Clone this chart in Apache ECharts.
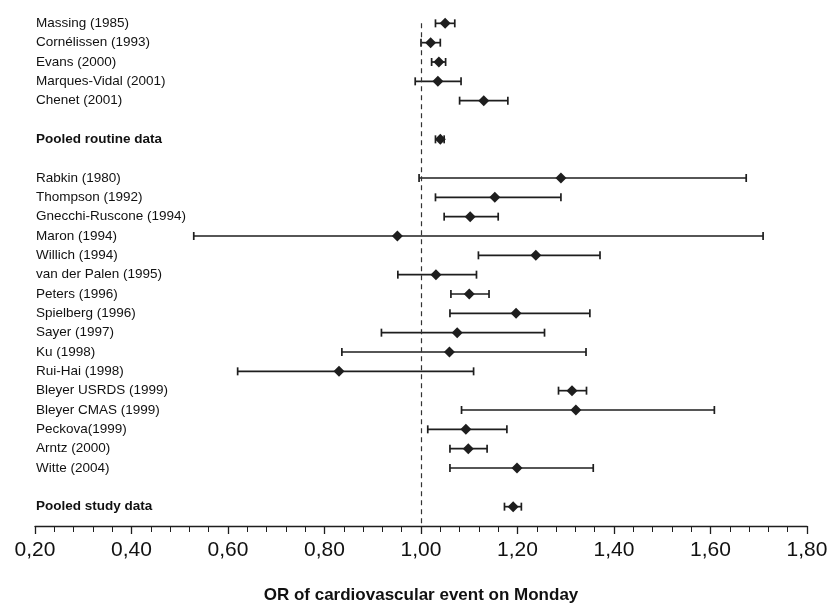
<!DOCTYPE html>
<html>
<head>
<meta charset="utf-8">
<script src="https://cdn.jsdelivr.net/npm/echarts@6/dist/echarts.min.js"></script>
<style>
  html, body { margin: 0; padding: 0; background: #fff; }
  #main { width: 833px; height: 610px; }
</style>
</head>
<body>
<div id="main"></div>
<script>
// routine data
var routineNames = ['Massing (1985)', 'Cornélissen (1993)', 'Evans (2000)', 'Marques-Vidal (2001)', 'Chenet (2001)'];
var routineOR = [1.05, 1.02, 1.037, 1.035, 1.13];
var routineLo = [1.03, 1.00, 1.022, 0.988, 1.08];
var routineHi = [1.07, 1.04, 1.051, 1.083, 1.18];
var pooledRoutine = [1.04, 1.03, 1.048];

// study data
var studyNames = ['Rabkin (1980)', 'Thompson (1992)', 'Gnecchi-Ruscone (1994)', 'Maron (1994)', 'Willich (1994)',
  'van der Palen (1995)', 'Peters (1996)', 'Spielberg (1996)', 'Sayer (1997)', 'Ku (1998)', 'Rui-Hai (1998)',
  'Bleyer USRDS (1999)', 'Bleyer CMAS (1999)', 'Peckova(1999)', 'Arntz (2000)', 'Witte (2004)'];
var studyOR = [1.29, 1.153, 1.102, 0.951, 1.238, 1.031, 1.10, 1.197, 1.075, 1.059, 0.83, 1.313, 1.321, 1.093, 1.098, 1.199];
var studyLo = [0.996, 1.03, 1.048, 0.529, 1.119, 0.952, 1.062, 1.06, 0.918, 0.836, 0.62, 1.285, 1.084, 1.014, 1.06, 1.06];
var studyHi = [1.674, 1.29, 1.16, 1.709, 1.371, 1.115, 1.141, 1.35, 1.256, 1.342, 1.109, 1.343, 1.608, 1.178, 1.137, 1.357];
var pooledStudy = [1.191, 1.173, 1.208];

var xTicks = [0.2, 1.8, 0.2]; // min, max, step
var refLine = 1.0;

// build rows: label, or, lo, hi (null = spacer)
var rows = [{ label: '' }];
routineNames.forEach(function (n, i) {
  rows.push({ label: n, or: routineOR[i], lo: routineLo[i], hi: routineHi[i] });
});
rows.push({ label: '' });
rows.push({ label: 'Pooled routine data', bold: true, or: pooledRoutine[0], lo: pooledRoutine[1], hi: pooledRoutine[2] });
rows.push({ label: '' });
studyNames.forEach(function (n, i) {
  rows.push({ label: n, or: studyOR[i], lo: studyLo[i], hi: studyHi[i] });
});
rows.push({ label: '' });
rows.push({ label: 'Pooled study data', bold: true, or: pooledStudy[0], lo: pooledStudy[1], hi: pooledStudy[2] });
rows.push({ label: '' });

var cats = rows.map(function (r) {
  return r.bold ? { value: r.label, textStyle: { fontWeight: 'bold' } } : r.label;
});
var ciData = [], pointData = [];
rows.forEach(function (r, i) {
  if (r.or == null) return;
  ciData.push([r.lo, r.hi, i]);
  pointData.push([r.or, i]);
});

var ink = '#1e1e1e';
var myChart = echarts.init(document.getElementById('main'));
var option = {
  animation: false,
  backgroundColor: '#fff',
  textStyle: { fontFamily: 'Liberation Sans' },
  grid: { left: 35, right: 26, top: 4, bottom: 84 },
  xAxis: {
    type: 'value',
    min: xTicks[0],
    max: xTicks[1],
    interval: xTicks[2],
    name: 'OR of cardiovascular event on Monday',
    nameLocation: 'middle',
    nameGap: 61,
    nameTextStyle: { fontSize: 17, fontWeight: 'bold', color: '#111', fontFamily: 'Liberation Sans' },
    axisLine: { show: true, onZero: false, lineStyle: { color: ink, width: 1.3 } },
    axisTick: { show: true, length: 8, lineStyle: { color: ink, width: 1.3 } },
    minorTick: { show: true, splitNumber: 5, length: 6, lineStyle: { color: ink, width: 1 } },
    splitLine: { show: false },
    axisLabel: {
      fontSize: 21,
      color: '#111',
      margin: 14,
      formatter: function (v) { return v.toFixed(2).replace('.', ','); }
    }
  },
  yAxis: {
    type: 'category',
    inverse: true,
    boundaryGap: false,
    data: cats,
    axisLine: { show: false },
    axisTick: { show: false },
    splitLine: { show: false },
    axisLabel: {
      inside: true,
      margin: 1,
      align: 'left',
      fontSize: 13.5,
      color: '#111',
      interval: 0
    }
  },
  series: [
    {
      type: 'custom',
      data: ciData,
      encode: { x: [0, 1], y: 2 },
      renderItem: function (params, api) {
        var a = api.coord([api.value(0), api.value(2)]);
        var b = api.coord([api.value(1), api.value(2)]);
        var h = 4;
        var st = { stroke: ink, lineWidth: 1.7 };
        return {
          type: 'group',
          children: [
            { type: 'line', shape: { x1: a[0], y1: a[1], x2: b[0], y2: b[1] }, style: st },
            { type: 'line', shape: { x1: a[0], y1: a[1] - h, x2: a[0], y2: a[1] + h }, style: st },
            { type: 'line', shape: { x1: b[0], y1: b[1] - h, x2: b[0], y2: b[1] + h }, style: st }
          ]
        };
      },
      z: 3
    },
    {
      type: 'scatter',
      data: pointData,
      symbol: 'diamond',
      symbolSize: [11, 11],
      itemStyle: { color: ink, opacity: 1 },
      z: 4,
      markLine: {
        silent: true,
        symbol: 'none',
        label: { show: false },
        lineStyle: { color: '#333', type: [5, 4], width: 1.2 },
        data: [[{ coord: [refLine, 1] }, { coord: [refLine, rows.length - 1] }]]
      }
    }
  ]
};
myChart.setOption(option);
window.addEventListener('resize', function () {
  myChart.resize();
});
</script>
</body>
</html>
